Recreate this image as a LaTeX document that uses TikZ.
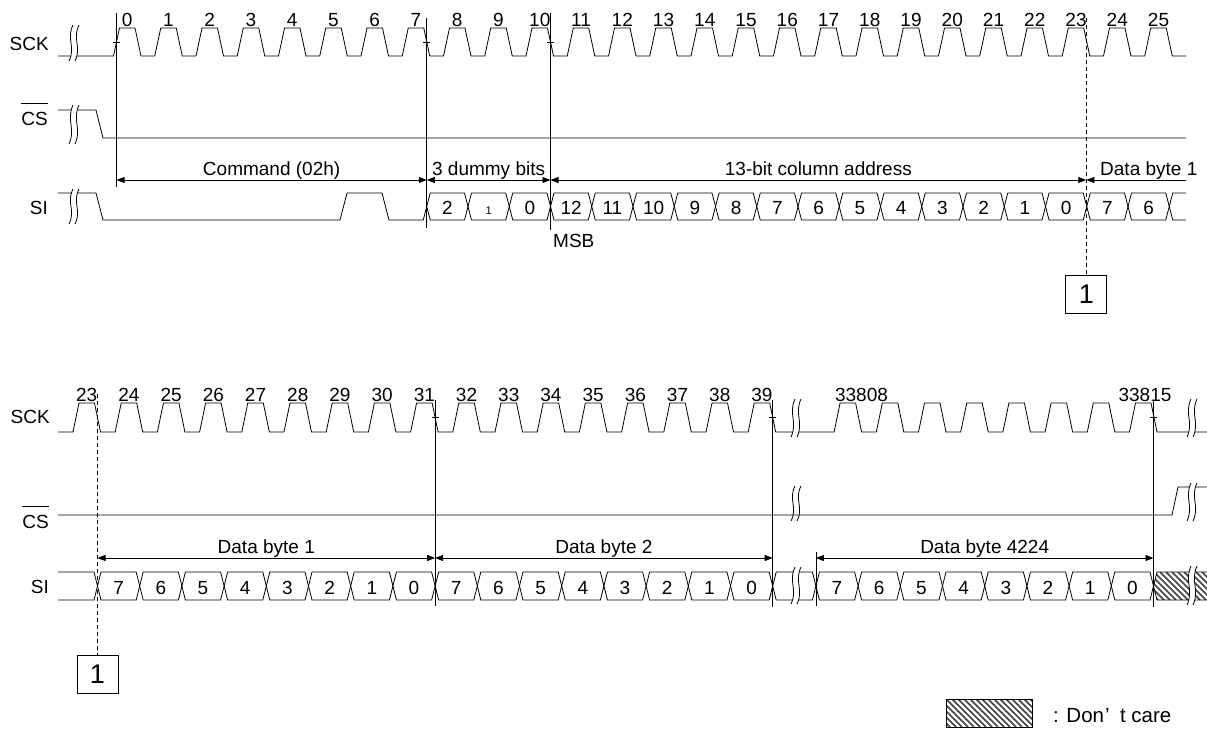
\documentclass[tikz,border=0pt]{standalone}
\usepackage{fontspec}
\setmainfont{Liberation Sans}
\usetikzlibrary{arrows.meta}

\tikzset{
  sig/.style={line width=0.8pt},
  dashln/.style={line width=0.8pt, dash pattern=on 4pt off 3pt},
  dim/.style={line width=0.8pt, {Triangle[length=8pt,width=6pt]}-{Triangle[length=8pt,width=6pt]}},
  dimone/.style={line width=0.8pt, {Triangle[length=8pt,width=6pt]}-},
  dimlbl/.style={anchor=base, inner sep=0pt, yshift=5pt},
  clk/.style={anchor=base, inner sep=0pt},
  sig name/.style={anchor=base east, inner sep=0pt},
  hatch/.style={line width=1.5pt, black!75},
  onebox/.style={draw, line width=0.8pt, anchor=north, inner sep=0pt,
    minimum width=41pt, minimum height=38pt, font=\fontsize{27}{30}\selectfont},
}

% break mark: [fill] x, y top, y bottom
\newcommand{\brkmark}[4][white]{%
  \fill[#1] ({#2+2},#3) .. controls ({#2-5},{#3+0.4*(#4-#3)}) and ({#2+5},{#3+0.6*(#4-#3)}) .. ({#2-2},#4)
    -- ({#2+4},#4) .. controls ({#2+11},{#3+0.6*(#4-#3)}) and ({#2+1},{#3+0.4*(#4-#3)}) .. ({#2+8},#3) -- cycle;
  \draw[sig] ({#2+2},#3) .. controls ({#2-5},{#3+0.4*(#4-#3)}) and ({#2+5},{#3+0.6*(#4-#3)}) .. ({#2-2},#4);
  \draw[sig] ({#2+8},#3) .. controls ({#2+1},{#3+0.4*(#4-#3)}) and ({#2+11},{#3+0.6*(#4-#3)}) .. ({#2+4},#4);
}

% bus cell: x left, x right, y top, y bottom
\newcommand{\buscell}[4]{%
  \draw[sig] ({#1},{(#3+#4)/2}) -- ({#1+3.5},#3) -- ({#2-3.5},#3) -- ({#2},{(#3+#4)/2})
    -- ({#2-3.5},#4) -- ({#1+3.5},#4) -- cycle;}

\newcommand{\sone}{{\fontsize{11}{12}\selectfont 1}}

\begin{document}
\begin{tikzpicture}[x=1pt, y=-1pt, every node/.style={font=\fontsize{19}{22}\selectfont}]
\useasboundingbox (0,0) rectangle (1207,729);

% signal names
\node[sig name] (sck1) at (49,50) {SCK};
\node[sig name] (cs1) at (48,125) {CS};
\draw[sig] ([yshift=8pt]cs1.north west) -- ([yshift=8pt]cs1.north east);
\node[sig name] (si1) at (48,214) {SI};
\node[sig name] (sck2) at (50,423) {SCK};
\node[sig name] (cs2) at (49,528) {CS};
\draw[sig] ([yshift=8pt]cs2.north west) -- ([yshift=8pt]cs2.north east);
\node[sig name] (si2) at (49,593) {SI};

% ---------- upper part ----------
\draw[sig] (58,56) -- (113.5,56)
  \foreach \n in {0,...,25} {
    -- ({113.5+\n*41.25},56) -- ({119.5+\n*41.25},28) -- ({135+\n*41.25},28) -- ({141+\n*41.25},56)}
  -- (1186,56);
\foreach \n in {0,...,25}
  \node[clk] (ck\n) at ({127.25+\n*41.25},26) {\n};

\draw[sig] (58,110) -- (96,110) -- (103,138) -- (1186,138);

\draw[sig] (58,193) -- (96,193) -- (103,220) -- (340,220) -- (347,193) -- (382,193)
  -- (389,220) -- (423.25,220) -- (426.75,206.5);
\foreach \v [count=\i from 0] in {2,\sone,0,12,11,10,9,8,7,6,5,4,3,2,1,0,7,6} {
  \buscell{426.75+\i*41.25}{426.75+\i*41.25+41.25}{193}{220}
  \node[clk] (bt\i) at ({447.375+\i*41.25},214) {\v};
}
\draw[sig] (1169.25,206.5) -- (1172.75,193) -- (1186,193);
\draw[sig] (1169.25,206.5) -- (1172.75,220) -- (1186,220);

\brkmark{71}{25}{61}
\brkmark{71}{105}{144}
\brkmark{71}{189}{224}

\coordinate (v0t) at (116.5,13);
\coordinate (v0b) at (116.5,187);
\coordinate (v7t) at (426.75,18);
\coordinate (v7b) at (426.75,228);
\coordinate (v10t) at (550.5,13);
\coordinate (v10b) at (550.5,230);
\coordinate (d23t) at (1086.25,18);
\draw[sig] (v0t) -- (v0b) (v7t) -- (v7b) (v10t) -- (v10b);
\draw[sig] (113,42) -- (120,42) (423.25,42) -- (430.25,42) (547,42) -- (554,42);

\node[onebox] (one1) at (1086.25,275) {1};
\draw[dashln] (d23t) -- (one1.north);

\coordinate (cmdL) at (116.5,180);
\coordinate (cmdR) at (426.75,180);
\coordinate (dumR) at (550.5,180);
\coordinate (colR) at (1086.25,180);
\coordinate (dbE) at (1186,180);
\draw[dim] (cmdL) -- node[dimlbl] (cmdlbl) {Command (02h)} (cmdR);
\draw[dim] (cmdR) -- node[dimlbl] (dumlbl) {3 dummy bits} (dumR);
\draw[dim] (dumR) -- node[dimlbl] (collbl) {13-bit column address} (colR);
\draw[dimone] (colR) -- (dbE);
\node[anchor=base west, inner sep=0pt] (db1lbl) at (1100,175) {Data byte 1};
\node[anchor=base west, inner sep=0pt] (msb) at (553,247) {MSB};

% ---------- lower part ----------
\draw[sig] (58,432) -- (73,432)
  \foreach \k in {0,...,16} {
    -- ({73+\k*42.2},432) -- ({79+\k*42.2},403) -- ({94.5+\k*42.2},403) -- ({100.5+\k*42.2},432)}
  -- (834.1,432)
  \foreach \k in {0,...,7} {
    -- ({834.1+\k*42.2},432) -- ({840.1+\k*42.2},403) -- ({855.6+\k*42.2},403) -- ({861.6+\k*42.2},432)}
  -- (1207,432);
\foreach \num [count=\k from 0] in {23,...,39}
  \node[clk] (ckb\num) at ({86.75+\k*42.2},401) {\num};
\node[clk] (ck33808) at (861.5,401) {33808};
\node[clk] (ck33815) at (1145,401) {33815};

\draw[sig] (58,515) -- (1172,515) -- (1178,487) -- (1207,487);

\draw[sig] (58,572) -- (94,572) -- (97.5,586) -- (94,600) -- (58,600);
\foreach \v [count=\i from 0] in {7,6,5,4,3,2,1,0,7,6,5,4,3,2,1,0} {
  \buscell{97.5+\i*42.2}{97.5+\i*42.2+42.2}{572}{600}
  \node[clk] (bb\i) at ({118.6+\i*42.2},594) {\v};
}
\buscell{772.7}{815.9}{572}{600}
\foreach \v [count=\i from 0] in {7,6,5,4,3,2,1,0} {
  \buscell{815.9+\i*42.2}{815.9+\i*42.2+42.2}{572}{600}
  \node[clk] (bc\i) at ({837+\i*42.2},594) {\v};
}
\begin{scope}
  \clip (1153.5,586) -- (1157,572) -- (1207,572) -- (1207,600) -- (1157,600) -- cycle;
  \foreach \h in {1130,1136,...,1210} \draw[hatch] (\h,572) -- ++(28,28);
\end{scope}
\draw[sig] (1207,572) -- (1157,572) -- (1153.5,586) -- (1157,600) -- (1207,600);

\brkmark{793}{399}{437}
\brkmark[fill opacity=0]{793}{486}{521}
\brkmark{793}{567}{604}
\brkmark{1189}{399}{437}
\brkmark{1189}{483}{521}
\brkmark{1189}{566}{605}

\coordinate (d23bt) at (97.5,394);
\coordinate (v31t) at (435.1,400);
\coordinate (v31b) at (435.1,606);
\coordinate (v39t) at (772.7,400);
\coordinate (v39b) at (772.7,607);
\coordinate (v815t) at (1153.5,400);
\coordinate (v815b) at (1153.5,607);
\coordinate (v808t) at (815.9,552);
\coordinate (v808b) at (815.9,606);
\draw[sig] (v31t) -- (v31b) (v39t) -- (v39b) (v815t) -- (v815b) (v808t) -- (v808b);
\draw[sig] (431.6,417.5) -- (438.6,417.5) (769.2,417.5) -- (776.2,417.5) (1150,417.5) -- (1157,417.5);

\node[onebox] (one2) at (97.5,655) {1};
\draw[dashln] (d23bt) -- (one2.north);

\coordinate (db1L) at (97.5,558);
\coordinate (db1R) at (435.1,558);
\coordinate (db2R) at (772.7,558);
\coordinate (db3L) at (815.9,558);
\coordinate (db3R) at (1153.5,558);
\draw[dim] (db1L) -- node[dimlbl] (db1blbl) {Data byte 1} (db1R);
\draw[dim] (db1R) -- node[dimlbl] (db2lbl) {Data byte 2} (db2R);
\draw[dim] (db3L) -- node[dimlbl] (db3lbl) {Data byte 4224} (db3R);

% legend
\begin{scope}
  \clip (946,699) rectangle (1032,727);
  \foreach \h in {916,922,...,1032} \draw[hatch] (\h,699) -- ++(28,28);
\end{scope}
\draw[sig] (946,699) rectangle (1032,727);
\node[anchor=base west, inner sep=0pt, font=\fontsize{20.5}{24}\selectfont] (dclbl) at (1053,722)
  {: Don\makebox[16pt][l]{\hspace{1pt}’}t care};
\end{tikzpicture}
\end{document}
